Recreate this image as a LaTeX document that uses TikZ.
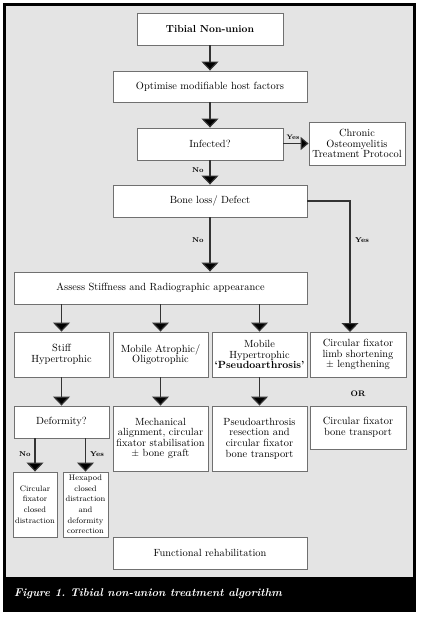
\documentclass[tikz,border=0pt]{standalone}
\usetikzlibrary{arrows.meta}
\definecolor{bggray}{HTML}{E4E4E4}
\definecolor{boxline}{HTML}{707070}
\definecolor{conn}{HTML}{333333}
\tikzset{
  box/.style={draw=boxline, line width=0.9pt, fill=white, align=center, inner sep=1pt,
    font=\fontsize{10.4}{10.6}\selectfont},
  smallbox/.style={box, font=\fontsize{8}{10.6}\selectfont},
  arr/.style={draw=conn, line width=1.2pt, -{Triangle[width=17pt,length=9pt,fill=black]}},
  harr/.style={draw=conn, line width=1.2pt, -{Triangle[width=13pt,length=8pt,fill=black]}},
  lbl/.style={font=\bfseries\fontsize{7}{8}\selectfont, inner sep=0pt},
}
\begin{document}
\frenchspacing
\begin{tikzpicture}[x=1pt,y=-1pt]
\useasboundingbox (0,0) rectangle (420,617);
\fill[white] (0,0) rectangle (420,617);
\fill[black] (3,3) rectangle (416,612);
\fill[bggray] (6,6) rectangle (413,577);
\node[anchor=base west, text=white, font=\bfseries\itshape\fontsize{11.2}{13}\selectfont, inner sep=0pt] (cap) at (14,596) {Figure 1. Tibial non-union treatment algorithm};

\node[box, minimum width=146pt, minimum height=32pt, font=\bfseries\fontsize{10.2}{12}\selectfont] (title) at (210,29) {Tibial Non-union};
\node[box, minimum width=194pt, minimum height=31pt] (optim) at (210,86.5) {Optimise modifiable host factors};
\node[box, minimum width=146pt, minimum height=32pt] (infect) at (210,144) {Infected?};
\node[box, minimum width=96pt, minimum height=43pt] (chronic) at (357,143.5) {Chronic\\Osteomyelitis\\Treatment Protocol};
\node[box, minimum width=194pt, minimum height=32pt] (bone) at (210,201) {Bone loss/ Defect};
\node[box, minimum width=293pt, minimum height=32pt] (assess) at (160.5,288) {Assess Stiffness and Radiographic appearance};
\node[box, minimum width=95pt, minimum height=45pt] (stiff) at (61.5,354.5) {Stiff\\Hypertrophic};
\node[box, minimum width=95pt, minimum height=45pt] (atroph) at (160.5,354.5) {Mobile Atrophic/\\Oligotrophic};
\node[box, minimum width=95pt, minimum height=45pt] (pseudo) at (259.5,354.5) {Mobile\\Hypertrophic\\\textbf{`Pseudoarthrosis'}};
\node[box, minimum width=96pt, minimum height=45pt] (limb) at (358,354.5) {Circular fixator\\limb shortening\\$\pm$ lengthening};
\node[box, minimum width=95pt, minimum height=32pt] (deform) at (61.5,422) {Deformity?};
\node[box, minimum width=95pt, minimum height=65pt] (mech) at (160.5,438.5) {Mechanical\\alignment, circular\\fixator stabilisation\\$\pm$ bone graft};
\node[box, minimum width=95pt, minimum height=65pt] (resec) at (259.5,438.5) {Pseudoarthrosis\\resection and\\circular fixator\\bone transport};
\node[box, minimum width=96pt, minimum height=43pt] (transport) at (358,427.5) {Circular fixator\\bone transport};
\node[smallbox, minimum width=44pt, minimum height=65pt] (closed) at (35,504.5) {Circular\\fixator\\closed\\distraction};
\node[smallbox, minimum width=45pt, minimum height=65pt] (hexa) at (85.5,504.5) {Hexapod\\closed\\distraction\\and\\deformity\\correction};
\node[box, minimum width=194pt, minimum height=32pt] (rehab) at (210,553) {Functional rehabilitation};

\draw[arr] (title) -- (optim);
\draw[arr] (optim) -- (infect);
\draw[harr] (infect.east |- chronic) -- (chronic.west);
\node[lbl, font=\bfseries\fontsize{6.5}{7}\selectfont] (yes1) at (293,137) {Yes};
\draw[arr] (infect) -- (bone);
\node[lbl] (no1) at (198,170) {No};
\draw[arr] (bone) -- (bone |- assess.north);
\node[lbl] (no2) at (198,240) {No};
\coordinate (lt) at (350,332);
\draw[arr] (bone.east) -| (lt);
\node[lbl] (yes2) at (362,240) {Yes};
\draw[arr] (stiff.north |- assess.south) -- (stiff.north);
\draw[arr] (atroph.north |- assess.south) -- (atroph.north);
\draw[arr] (pseudo.north |- assess.south) -- (pseudo.north);
\draw[arr] (stiff) -- (deform);
\draw[arr] (atroph) -- (mech);
\draw[arr] (pseudo) -- (resec);
\node[lbl, font=\bfseries\fontsize{8}{9}\selectfont] (or) at (358,394) {OR};
\draw[arr] (closed.north |- deform.south) -- (closed.north);
\draw[arr] (hexa.north |- deform.south) -- (hexa.north);
\node[lbl] (no3) at (25,454) {No};
\node[lbl] (yes3) at (97,454) {Yes};
\end{tikzpicture}
\end{document}
